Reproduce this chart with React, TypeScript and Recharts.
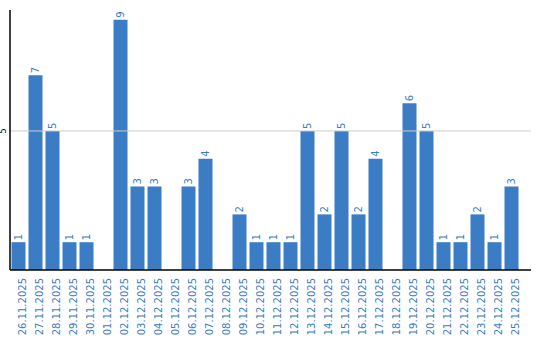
import { BarChart, Bar, XAxis, YAxis, ReferenceLine, LabelList } from 'recharts';

const dates = [
  "26.11.2025", "27.11.2025", "28.11.2025", "29.11.2025", "30.11.2025",
  "01.12.2025", "02.12.2025", "03.12.2025", "04.12.2025", "05.12.2025",
  "06.12.2025", "07.12.2025", "08.12.2025", "09.12.2025", "10.12.2025",
  "11.12.2025", "12.12.2025", "13.12.2025", "14.12.2025", "15.12.2025",
  "16.12.2025", "17.12.2025", "18.12.2025", "19.12.2025", "20.12.2025",
  "21.12.2025", "22.12.2025", "23.12.2025", "24.12.2025", "25.12.2025"
];
const counts = [1, 7, 5, 1, 1, 0, 9, 3, 3, 0, 3, 4, 0, 2, 1, 1, 1, 5, 2, 5, 2, 4, 0, 6, 5, 1, 1, 2, 1, 3];
const yTicks = [5];

const BLUE = "#3b7dc4";
const FONT = "DejaVu Sans, sans-serif";

const data = dates.map((d, i) => ({ date: d, count: counts[i] }));

// rotated date labels under the axis
function DateTick(props: any) {
  const { x, y, payload } = props;
  return (
    <text
      x={x}
      y={y}
      dy={4}
      transform={`rotate(-90, ${x}, ${y})`}
      textAnchor="end"
      fill={BLUE}
      fontSize={10}
      fontFamily={FONT}
      dominantBaseline="central"
    >
      {payload.value}
    </text>
  );
}

function ValueTick(props: any) {
  const { y, payload } = props;
  const x = 4;
  return (
    <text
      x={x}
      y={y}
      transform={`rotate(-90, ${x}, ${y})`}
      textAnchor="middle"
      fill="#000"
      fontSize={8}
      fontFamily={FONT}
      dominantBaseline="central"
    >
      {payload.value}
    </text>
  );
}

// value above each bar, rotated
function BarValue(props: any) {
  const { x, y, width, value } = props;
  if (!value) return null;
  const cx = x + width / 2;
  const ty = y - 2;
  return (
    <text
      x={cx}
      y={ty}
      transform={`rotate(-90, ${cx}, ${ty})`}
      textAnchor="start"
      fill={BLUE}
      fontSize={10}
      fontFamily={FONT}
      dominantBaseline="central"
    >
      {value}
    </text>
  );
}

export default function App() {
  return (
    <div style={{ position: 'absolute', left: 0, top: 0, background: '#fff' }}>
      <BarChart
        width={540}
        height={340}
        data={data}
        margin={{ top: 10, right: 9, bottom: 0, left: 0 }}
        barCategoryGap={1.5}
      >
        <ReferenceLine y={5} stroke="#cccccc" />
        <XAxis
          dataKey="date"
          interval={0}
          height={70}
          tickLine={false}
          axisLine={{ stroke: '#000', strokeWidth: 1.5 }}
          padding={{ left: 0, right: 11 }}
          tick={<DateTick />}
        />
        <YAxis
          width={10}
          domain={[0, 9.35]}
          ticks={yTicks}
          tickLine={false}
          axisLine={{ stroke: '#000', strokeWidth: 1.5 }}
          tick={<ValueTick />}
        />
        <Bar dataKey="count" fill={BLUE} isAnimationActive={false}>
          <LabelList dataKey="count" content={<BarValue />} />
        </Bar>
      </BarChart>
    </div>
  );
}
